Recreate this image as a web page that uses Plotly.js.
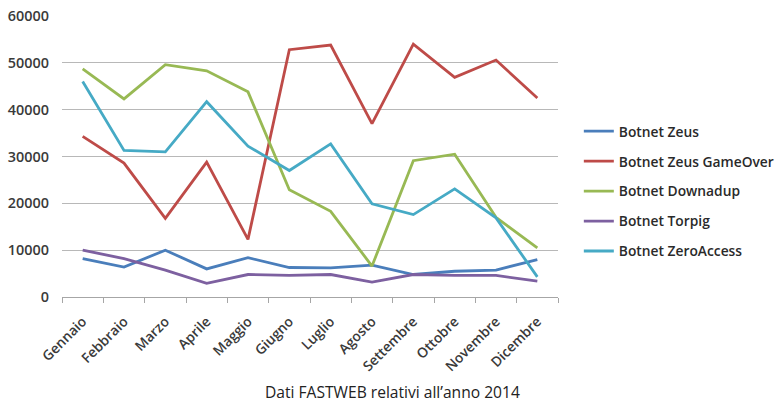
<!DOCTYPE html>
<html>
<head>
<meta charset="utf-8">
<script src="https://cdn.plot.ly/plotly-3.0.1.min.js"></script>
<style>
  html, body { margin: 0; padding: 0; background: #fff; }
  #chart { width: 779px; height: 403px; }
</style>
</head>
<body>
<div id="chart"></div>
<script>
// Monthly botnet detections, 2014
const months = ["Gennaio", "Febbraio", "Marzo", "Aprile", "Maggio", "Giugno",
                "Luglio", "Agosto", "Settembre", "Ottobre", "Novembre", "Dicembre"];

const zeus         = [8200, 6400, 10000, 6000, 8400, 6300, 6200, 6800, 4800, 5500, 5750, 8000];
const zeusGameOver = [34300, 28600, 16800, 28800, 12300, 52800, 53800, 37000, 54000, 46900, 50600, 42500];
const downadup     = [48700, 42300, 49600, 48300, 43800, 22900, 18300, 6600, 29100, 30500, 17000, 10500];
const torpig       = [10000, 8200, 5750, 2900, 4800, 4600, 4800, 3200, 4800, 4600, 4600, 3400];
const zeroAccess   = [46000, 31300, 31000, 41700, 32200, 27000, 32700, 19900, 17600, 23100, 16900, 4300];

const seriesNames = ["Botnet Zeus", "Botnet Zeus GameOver", "Botnet Downadup", "Botnet Torpig", "Botnet ZeroAccess"];
const seriesValues = [zeus, zeusGameOver, downadup, torpig, zeroAccess];
const seriesColors = ["#4A7EBB", "#BE4B48", "#98B954", "#7D60A0", "#46AAC5"];

const traces = seriesNames.map((name, i) => ({
  type: "scatter",
  mode: "lines",
  name: name,
  x: months,
  y: seriesValues[i],
  legendgroup: "g" + i,
  line: { color: seriesColors[i], width: 2.8 }
}));

const fontFamily = "Open Sans, Liberation Sans, sans-serif";

const layout = {
  width: 779,
  height: 403,
  margin: { l: 62, r: 221, t: 16, b: 106, autoexpand: false },
  paper_bgcolor: "#ffffff",
  plot_bgcolor: "#ffffff",
  showlegend: true,
  legend: {
    x: 1.042, xanchor: "left",
    y: 0.645, yanchor: "top",
    font: { family: fontFamily, size: 13.8, color: "#2a2a2a", weight: 600 },
    tracegroupgap: 9,
    bgcolor: "rgba(0,0,0,0)"
  },
  xaxis: {
    type: "category",
    range: [-0.5, 11.5],
    tickangle: -45,
    tickfont: { family: fontFamily, size: 13.8, color: "#3a3a3a", weight: 600 },
    showgrid: false,
    showline: true,
    linecolor: "#a6a6a6",
    linewidth: 1,
    ticks: "outside",
    tickson: "boundaries",
    ticklen: 5,
    tickcolor: "#a6a6a6",
    zeroline: false,
    ticklabelstandoff: 10
  },
  yaxis: {
    range: [0, 60000],
    dtick: 10000,
    tickformat: "d",
    tickfont: { family: fontFamily, size: 14.4, color: "#3a3a3a", weight: 600 },
    showgrid: true,
    gridcolor: "#b8b8b8",
    gridwidth: 1,
    showline: false,
    zeroline: false,
    ticks: "",
    ticklabelstandoff: 12
  },
  annotations: [{
    text: "Dati FASTWEB relativi all\u2019anno 2014",
    xref: "paper", yref: "paper",
    x: (392 - 62) / 496, y: -0.338,
    xanchor: "center", yanchor: "middle",
    showarrow: false,
    font: { family: fontFamily, size: 15.6, color: "#222222" }
  }]
};

Plotly.newPlot("chart", traces, layout, { displayModeBar: false, staticPlot: true });
</script>
</body>
</html>
